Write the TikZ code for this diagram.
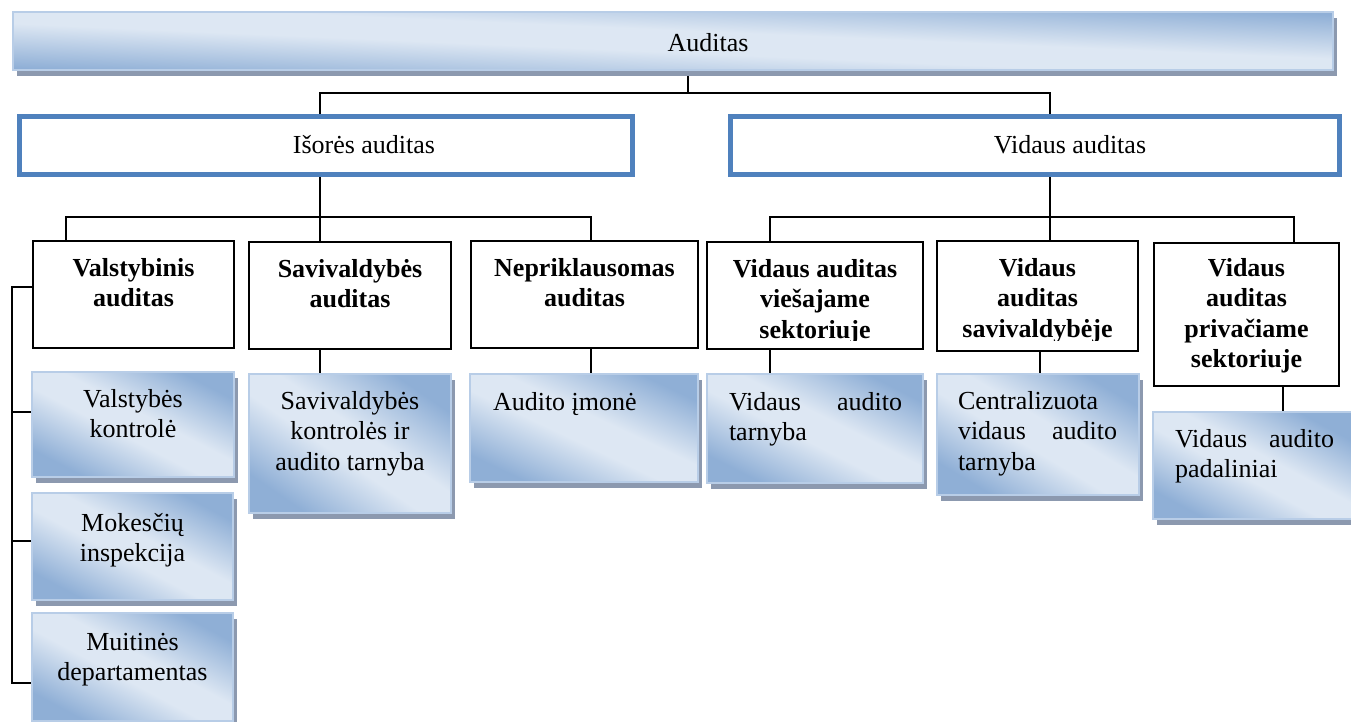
\documentclass[tikz,border=0pt]{standalone}
\usepackage{fontspec}
\setmainfont{Liberation Serif}
\usetikzlibrary{shadows}
\hyphenpenalty=10000
\exhyphenpenalty=10000

\definecolor{bdark}{RGB}{143,175,214}
\definecolor{blight}{RGB}{221,231,243}
\definecolor{shadegrey}{RGB}{140,153,175}
\definecolor{bedge}{RGB}{184,205,231}
\definecolor{accent}{RGB}{79,129,189}

% two-sided blue gradient, dark at both ends of the axis
\pgfdeclareverticalshading{smartblue}{100bp}{%
  color(0bp)=(bdark); color(25bp)=(bdark); color(45bp)=(blight);
  color(55bp)=(blight); color(75bp)=(bdark); color(100bp)=(bdark)}

\pgfdeclarelayer{paper}
\pgfdeclarelayer{bg}
\pgfsetlayers{paper,bg,main}

% box body: width, height, first baseline from top, text
\newcommand\pbox[4]{\parbox[c][#2pt][t]{#1pt}{\vspace*{\dimexpr#3pt-\ht\strutbox\relax}#4}}
% centred lines
\newcommand\ctr[1]{\centering\strut#1\par}
% justified lines with left/right padding
\newcommand\just[3]{\leftskip=#1pt\rightskip=#2pt\strut#3\par}

\tikzset{
  every node/.append style={font=\fontsize{26}{30.5}\selectfont, inner sep=0pt, outer sep=0pt, anchor=north west},
  conn/.style={draw=black, line width=2pt},
  % the angle keeps the light band on the box diagonal
  gradbox/.style={shading=smartblue, shading angle=#1, draw=bedge, line width=1.5pt,
    general shadow={fill=shadegrey, shadow xshift=4pt, shadow yshift=-6pt}},
  mainbox/.style={fill=white, draw=accent, line width=5pt},
  subbox/.style={fill=white, draw=black, line width=2pt},
}

\begin{document}
\begin{tikzpicture}[x=1pt, y=-1pt]
\begin{pgfonlayer}{paper}
  \fill[white] (0,0) rectangle (1351,722);
\end{pgfonlayer}
\useasboundingbox (0,0) rectangle (1351,722);

% root
\node[gradbox=-2.5] (audit) at (13,12) {\pbox{1320}{58}{40}{\ctr{\hspace*{70pt}Auditas}}};

% second level
\node[mainbox] (iso) at (19.5,116.5) {\pbox{613}{58}{37.5}{\ctr{\hspace*{76pt}Išorės auditas}}};
\node[mainbox] (vid) at (730.5,116.5) {\pbox{609}{58}{37.5}{\ctr{\hspace*{70pt}Vidaus auditas}}};

% third level
\node[subbox] (valst) at (33,241) {\pbox{201}{107}{35}{\ctr{\bfseries Valstybinis\\auditas}}};
\node[subbox] (saviA) at (249,242) {\pbox{202}{107}{35}{\ctr{\bfseries Savivaldybės\\auditas}}};
\node[subbox] (nepr) at (471,241) {\pbox{227}{107}{35}{\ctr{\bfseries Nepriklausomas\\auditas}}};
\node[subbox] (vvs) at (707,242) {\pbox{216}{107}{35}{\strut\par}};
\begin{scope}
  \clip (707,242) rectangle (923,340);
  \node (vvstext) at (vvs.north west) {\pbox{216}{107}{35}{\ctr{\bfseries Vidaus auditas\\viešajame\\sektoriuje}}};
\end{scope}
\node[subbox] (vsav) at (937,241) {\pbox{201}{110}{35}{\strut\par}};
\begin{scope}
  \clip (937,241) rectangle (1138,340);
  \node (vsavtext) at (vsav.north west) {\pbox{201}{110}{35}{\ctr{\bfseries Vidaus\\auditas\\savivaldybėje}}};
\end{scope}
\node[subbox] (vpriv) at (1154,243) {\pbox{185}{143}{33}{\ctr{\bfseries Vidaus\\auditas\\privačiame\\sektoriuje}}};

% fourth level
\node[gradbox=-27.5] (vk) at (32,372) {\pbox{202}{105}{35}{\ctr{Valstybės\\kontrolė}}};
\node[gradbox=-28] (mok) at (32,493) {\pbox{201}{107}{38}{\ctr{Mokesčių\\inspekcija}}};
\node[gradbox=-28.3] (muit) at (32,613) {\pbox{201}{108}{37}{\ctr{Muitinės\\departamentas}}};
\node[gradbox=-34.5] (skat) at (249,374) {\pbox{202}{139}{35}{\ctr{Savivaldybės\\kontrolės ir\\audito tarnyba}}};
\node[gradbox=-25.3] (aim) at (470,374) {\pbox{228}{108}{36}{\just{23}{23}{Audito įmonė}}};
\node[gradbox=-26.8] (vat) at (707,374) {\pbox{216}{109}{36}{\just{22}{21}{Vidaus\hfill audito\\tarnyba}}};
\node[gradbox=-30.9] (cvat) at (937,374) {\pbox{202}{121}{35}{\just{21}{22}{Centralizuota\\vidaus\hfill audito\\tarnyba}}};
\node[gradbox=-28.3] (vap) at (1153,412) {\pbox{199}{107}{35}{\just{22}{18}{Vidaus\hfill audito\\padaliniai}}};

% connectors
\begin{pgfonlayer}{bg}
  % root to second level
  \draw[conn] ([xshift=-6pt]iso.north) -- ++(0,-23.5) -| ([xshift=15pt]audit.south);
  \draw[conn] ([xshift=15pt]vid.north) -- ++(0,-23.5) -| ([xshift=15pt]audit.south);
  % external audit branch
  \draw[conn] ([xshift=-67.5pt]valst.north) -- ++(0,-24) -| ([xshift=-6pt]iso.south);
  \draw[conn] ([xshift=-30pt]saviA.north) -- ++(0,-25) -| ([xshift=-6pt]iso.south);
  \draw[conn] ([xshift=6.5pt]nepr.north) -- ++(0,-24) -| ([xshift=-6pt]iso.south);
  % internal audit branch
  \draw[conn] ([xshift=-45pt]vvs.north) -- ++(0,-25) -| ([xshift=15pt]vid.south);
  \draw[conn] ([xshift=12.5pt]vsav.north) -- ++(0,-24) -| ([xshift=15pt]vid.south);
  \draw[conn] ([xshift=47.5pt]vpriv.north) -- ++(0,-26) -| ([xshift=15pt]vid.south);
  % state audit bus on the left
  \draw[conn] ([yshift=-16pt]muit.west) -| ([xshift=-21pt,yshift=7.5pt]valst.west) -- ([yshift=7.5pt]valst.west);
  \draw[conn] ([yshift=12.5pt]vk.west) -| ([xshift=-21pt,yshift=7.5pt]valst.west);
  \draw[conn] ([yshift=5.5pt]mok.west) -| ([xshift=-21pt,yshift=7.5pt]valst.west);
  % units below their audit types
  \draw[conn] ([xshift=-30pt]saviA.south) -- ([xshift=-30pt]saviA.south |- skat.north);
  \draw[conn] ([xshift=6.5pt]nepr.south) -- ([xshift=6.5pt]nepr.south |- aim.north);
  \draw[conn] ([xshift=-45pt]vvs.south) -- ([xshift=-45pt]vvs.south |- vat.north);
  \draw[conn] ([xshift=2.5pt]vsav.south) -- ([xshift=2.5pt]vsav.south |- cvat.north);
  \draw[conn] ([xshift=36.5pt]vpriv.south) -- ([xshift=36.5pt]vpriv.south |- vap.north);
\end{pgfonlayer}
\end{tikzpicture}
\end{document}
